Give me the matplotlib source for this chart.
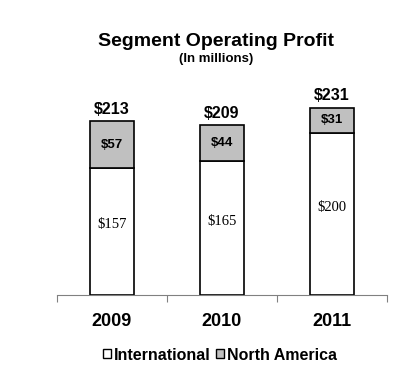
import numpy as np
import matplotlib.pyplot as plt
from matplotlib.patches import Patch

years = ['2009', '2010', '2011']
international = [157, 165, 200]
north_america = [57, 44, 31]
totals = [213, 209, 231]

plt.rcParams['font.family'] = ['Liberation Sans', 'DejaVu Sans']

fig = plt.figure(figsize=(4, 3.77), dpi=100)
ax = fig.add_axes([57 / 400, 1 - 295 / 377, 330 / 400, 215 / 377])

x = np.arange(len(years))
w = 0.4
ax.bar(x, international, w, color='white', edgecolor='black', linewidth=1.2)
ax.bar(x, north_america, w, bottom=international, color='#c0c0c0',
       edgecolor='black', linewidth=1.2)

for i in range(len(years)):
    ax.text(x[i], international[i] / 2 + 8, f'${international[i]}', ha='center', va='center',
            fontsize=10.5, family='Liberation Serif')
    ax.text(x[i], international[i] + north_america[i] / 2, f'${north_america[i]}',
            ha='center', va='center', fontsize=9.5, fontweight='bold')
    ax.text(x[i], totals[i] + 6, f'${totals[i]}', ha='center', va='bottom',
            fontsize=11.5, fontweight='bold')

ax.set_xlim(-0.5, 2.5)
ax.set_ylim(0, 265)
for s in ['top', 'right', 'left']:
    ax.spines[s].set_visible(False)
ax.spines['bottom'].set_color('#808080')
ax.set_yticks([])
ax.set_xticks([-0.5, 0.5, 1.5, 2.5])
ax.set_xticklabels([])
ax.tick_params(axis='x', direction='out', length=5, color='#808080')
for i, yr in enumerate(years):
    ax.text(x[i], -33, yr, ha='center', va='center', fontsize=13, fontweight='bold')

fig.text(0.54, 1 - 42 / 377, 'Segment Operating Profit', ha='center', va='center',
         fontsize=14, fontweight='bold')
fig.text(0.54, 1 - 59 / 377, '(In millions)', ha='center', va='center',
         fontsize=9.5, fontweight='bold')

handles = [Patch(facecolor='white', edgecolor='black', label='International'),
           Patch(facecolor='#c0c0c0', edgecolor='black', label='North America')]
fig.legend(handles=handles, loc='center', bbox_to_anchor=(0.55, 1 - 355 / 377), ncol=2,
           frameon=False, handlelength=0.5, handleheight=0.5, handletextpad=0.2,
           columnspacing=0.3, prop={'weight': 'bold', 'size': 11.5})

fig.savefig('out.png', dpi=100)
